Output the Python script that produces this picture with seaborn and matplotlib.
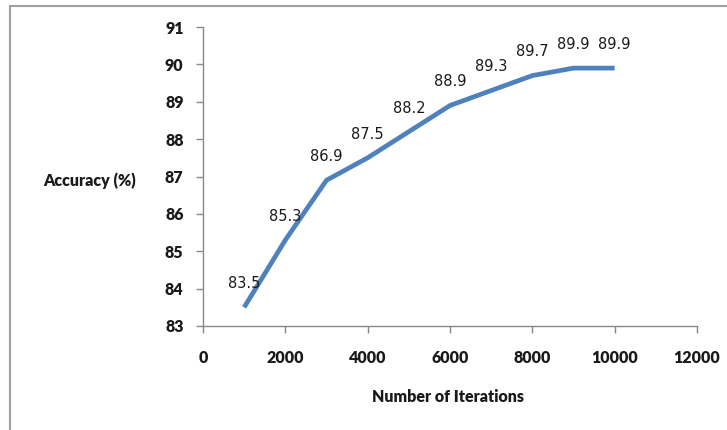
import matplotlib
matplotlib.use('Agg')
import matplotlib.pyplot as plt
from matplotlib.lines import Line2D
import seaborn as sns
import pandas as pd

# Data
iterations = [1000, 2000, 3000, 4000, 5000, 6000, 7000, 8000, 9000, 10000]
accuracy = [83.5, 85.3, 86.9, 87.5, 88.2, 88.9, 89.3, 89.7, 89.9, 89.9]
x_ticks = [0, 2000, 4000, 6000, 8000, 10000, 12000]
y_ticks = [83, 84, 85, 86, 87, 88, 89, 90, 91]

df = pd.DataFrame({'iterations': iterations, 'accuracy': accuracy})

sns.set_theme(style='white')
plt.rcParams['font.family'] = ['Lato', 'DejaVu Sans']

fig = plt.figure(figsize=(7.27, 4.30), dpi=100)
ax = fig.add_axes([203 / 727, 1 - 326 / 430, 494 / 727, 299 / 430])

sns.lineplot(data=df, x='iterations', y='accuracy', ax=ax,
             color='#4F81BD', linewidth=3.4, solid_capstyle='butt')

# data labels above each point
for x, y in zip(iterations, accuracy):
    ax.annotate(f'{y:.1f}', (x, y), xytext=(0, 17), textcoords='offset points',
                ha='center', va='center', fontsize=10.5,
                family=['DejaVu Sans'], color='#1a1a1a')

ax.set_xlim(0, 12000)
ax.set_ylim(83, 91)
ax.set_xticks(x_ticks)
ax.set_yticks(y_ticks)
ax.set_xticklabels([str(t) for t in x_ticks], fontsize=11.5, fontweight='heavy')
ax.set_yticklabels([str(t) for t in y_ticks], fontsize=11.5, fontweight='heavy')
ax.tick_params(axis='both', which='major', direction='out', length=5,
               width=1, color='#888888', labelcolor='#1a1a1a',
               bottom=True, left=True)
ax.tick_params(axis='x', pad=12)
ax.tick_params(axis='y', pad=9)

sns.despine(ax=ax)
for side in ['left', 'bottom']:
    ax.spines[side].set_color('#888888')
    ax.spines[side].set_linewidth(1)

ax.set_xlabel('')
ax.set_ylabel('')
fig.text(448 / 727, 1 - 397 / 430, 'Number of Iterations', ha='center',
         va='center', fontsize=11.5, fontweight='heavy', color='#1a1a1a')
fig.text(90 / 727, 1 - 181 / 430, 'Accuracy (%)', ha='center',
         va='center', fontsize=11.5, fontweight='heavy', color='#1a1a1a')

# screenshot border (top and left)
fig.add_artist(Line2D([10 / 727, 10 / 727], [0, 1 - 6 / 430],
                      transform=fig.transFigure, color='#a0a0a0', linewidth=1.5))
fig.add_artist(Line2D([10 / 727, 1], [1 - 6 / 430, 1 - 6 / 430],
                      transform=fig.transFigure, color='#a0a0a0', linewidth=1.5))

fig.savefig('out.png', dpi=100)
